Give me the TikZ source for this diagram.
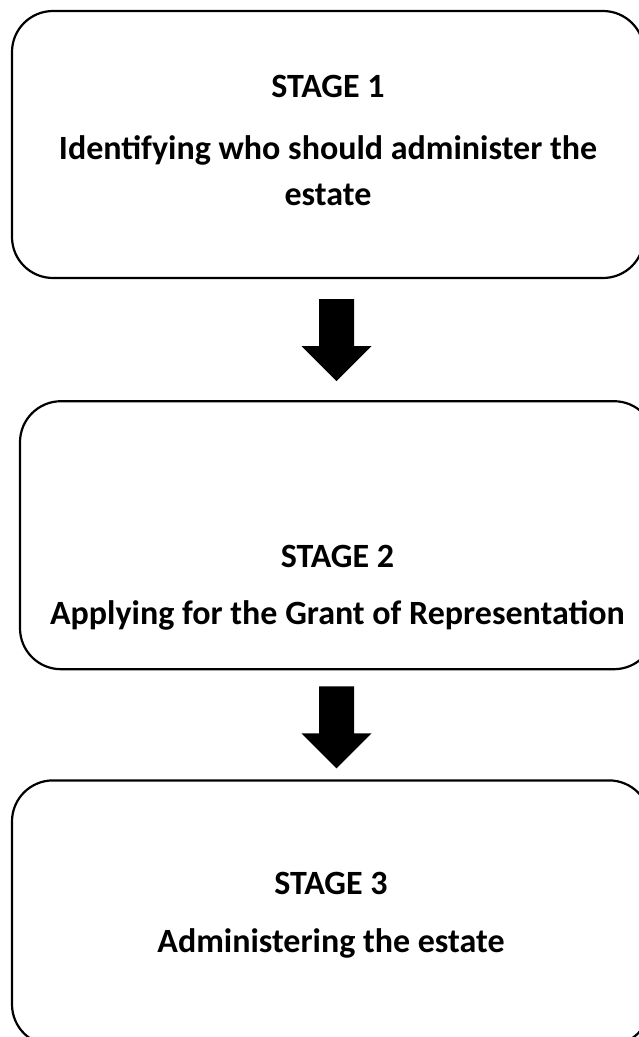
\documentclass[tikz,border=0pt]{standalone}
\usepackage{fontspec}
\setmainfont{Carlito}
\usetikzlibrary{positioning, calc}

\tikzset{
    stagebox/.style={draw, line width=2.2pt, rounded corners=41pt, inner sep=0pt},
    stagetext/.style={font=\fontsize{34}{46}\selectfont\bfseries, align=center, inner sep=0pt},
}
\newcommand\blockarrow[1]{\fill (#1) ++(-17.5,0) -- ++(35,0) -- ++(0,-47) -- ++(17.5,0) -- ++(-35,-35) -- ++(-35,35) -- ++(17.5,0) -- cycle;}

\begin{document}
\begin{tikzpicture}[x=1pt, y=1pt]
    \useasboundingbox (0,0) rectangle (638,-1037);
    \node[stagebox, minimum width=632pt, minimum height=267pt] at (328,-144.5) (stage 1) {};
    \node[stagebox, minimum width=635pt, minimum height=268pt, below=121pt of stage 1, xshift=9.5pt] (stage 2) {};
    \node[stagebox, minimum width=638pt, minimum height=265pt, below=109pt of stage 2, xshift=-6.5pt] (stage 3) {};

    \node[stagetext] at ($(stage 1.north)+(0,-77)$)  (title 1) {STAGE 1};
    \node[stagetext] at ($(stage 1.north)+(0,-161)$) (text 1)  {Identifying who should administer the\\estate};
    \node[stagetext] at ($(stage 2.north)+(0,-156)$) (title 2) {STAGE 2};
    \node[stagetext] at ($(stage 2.north)+(0,-215)$) (text 2)  {Applying for the Grant of Representation};
    \node[stagetext] at ($(stage 3.north)+(0,-104)$) (title 3) {STAGE 3};
    \node[stagetext] at ($(stage 3.north)+(0,-164)$) (text 3)  {Administering the estate};

    \coordinate (arrow 1) at ($(stage 1.south)+(8.5,-20)$);
    \coordinate (arrow 2) at ($(stage 2.south)+(-1,-16)$);
    \blockarrow{arrow 1}
    \blockarrow{arrow 2}
\end{tikzpicture}
\end{document}
